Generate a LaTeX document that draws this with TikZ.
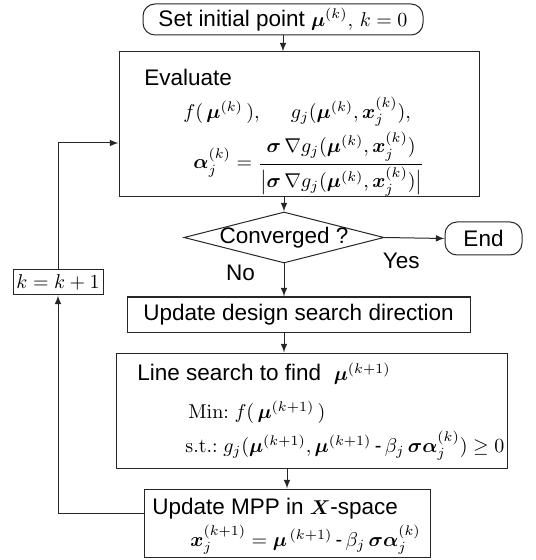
\documentclass[tikz,border=0pt]{standalone}
\usepackage{amsmath}
\usepackage{bm}
\usepackage[no-math]{fontspec}
\setmainfont{Liberation Sans}
\usetikzlibrary{shapes.geometric}

% formulas a bit smaller than the text
\newcommand{\eqsm}[1]{{\fontsize{10}{12}\selectfont$#1$}}

\begin{document}
\begin{tikzpicture}[x=0.5pt, y=-0.5pt, >=latex,
    every node/.style={font=\fontsize{11.25}{13.5}\selectfont},
    box/.style={draw=black!85, line width=0.5pt, inner sep=0pt},
    txt/.style={anchor=west, inner sep=0pt},
    flow/.style={->, draw=black!85, line width=0.5pt}]
    \useasboundingbox (0,0) rectangle (535,560);

    % Cajas
    \node[box, rounded corners=6pt, minimum width=140pt, minimum height=15.5pt] (start) at (283,19.5) {Set initial point \eqsm{\bm{\mu}^{(k)}, \, k=0}};
    \node[box, minimum width=180pt, minimum height=72.5pt] (eval) at (299,124.5) {};
    \node[box, diamond, aspect=3.9, text height=7pt, text depth=1pt, minimum width=100pt, minimum height=25.5pt] (conv) at (284,237.5) {Converged ?};
    \node[box, rounded corners=6pt, minimum width=38.5pt, minimum height=16.5pt] (stop) at (483.5,238.5) {End};
    \node[box, minimum width=45pt, minimum height=12.5pt] (kinc) at (58,282.5) {\eqsm{k = k + 1}};
    \node[box, minimum width=171.5pt, minimum height=17.5pt] (update) at (298.5,314.5) {Update design search direction};
    \node[box, minimum width=195.5pt, minimum height=57.5pt] (search) at (311.5,410.5) {};
    \node[box, minimum width=143pt, minimum height=34pt] (mpp) at (287,523) {};

    % Textos
    \node[txt] (evaltitle) at (144,77) {Evaluate};
    \node[txt] (evalfg) at (183,112) {\eqsm{f(\,\bm{\mu}^{(k)}\,),\hspace{14pt} g_j(\bm{\mu}^{(k)}, \bm{x}_j^{(k)}),}};
    \node[txt] (evalalpha) at (193,164) {\eqsm{\bm{\alpha}_j^{(k)} = \dfrac{\bm{\sigma}\,\nabla g_j(\bm{\mu}^{(k)}, \bm{x}_j^{(k)})}{\bigl|\bm{\sigma}\,\nabla g_j(\bm{\mu}^{(k)}, \bm{x}_j^{(k)})\bigr|}}};
    \node[txt] (searchtitle) at (137,374) {Line search to find \ \eqsm{\bm{\mu}^{(k+1)}}};
    \node[txt] (searchmin) at (188,412) {\eqsm{\mathrm{Min{:}}\ f(\,\bm{\mu}^{(k+1)}\,)}};
    \node[txt] (searchst) at (185,446) {\eqsm{\mathrm{s.t.{:}}\ g_j(\bm{\mu}^{(k+1)}, \bm{\mu}^{(k+1)}\,\text{-}\,\beta_j\,\bm{\sigma}\bm{\alpha}_j^{(k)})\geq 0}};
    \node[txt] (mpptitle) at (152,509) {Update MPP in \eqsm{\bm{X}}-space};
    \node[txt] (mppx) at (190,540) {\eqsm{\bm{x}_j^{(k+1)} = \bm{\mu}^{\,(k+1)}\,\text{-}\,\beta_j\,\bm{\sigma}\bm{\alpha}_j^{(k)}}};

    % Flechas
    \draw[flow] (start) -- (start |- eval.north);
    \draw[flow] (conv |- eval.south) -- (conv.north);
    \draw[flow] (conv.east) -- node[below=4pt, pos=0.28] (yes) {Yes} (stop.west);
    \draw[flow] (conv.south) -- node[left=11pt, pos=0.27] (no) {No} (conv |- update.north);
    \draw[flow] (conv |- update.south) -- (conv |- search.north);
    \draw[flow] (mpp |- search.south) -- (mpp.north);
    % Vuelta al inicio
    \draw[flow] ([yshift=5pt]mpp.west) -| (kinc.south);
    \draw[flow] (kinc.north) |- ([yshift=-9.25pt]eval.west);
\end{tikzpicture}
\end{document}
